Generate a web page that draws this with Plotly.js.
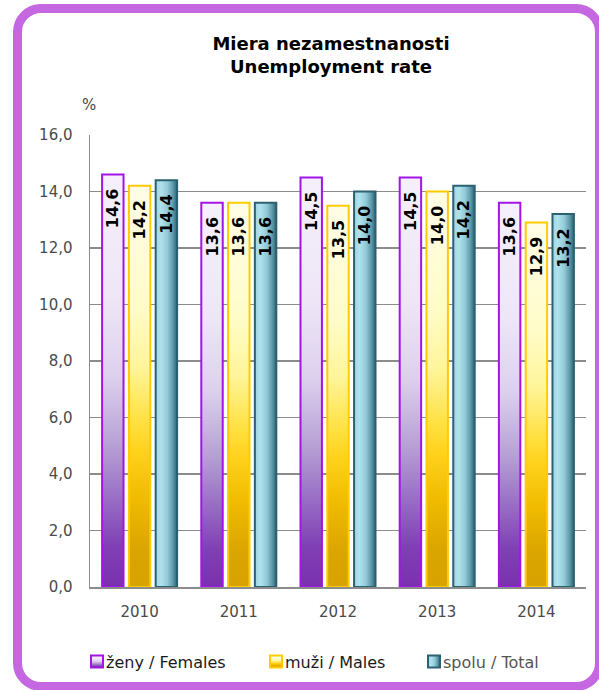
<!DOCTYPE html>
<html><head><meta charset="utf-8">
<script src="https://cdn.plot.ly/plotly-3.0.1.min.js"></script>
<style>
html,body{margin:0;padding:0;background:#fff;overflow:hidden;width:599px;height:690px;}
#frame{position:absolute;left:13px;top:4px;width:573px;height:669px;border:9px solid #c467e0;border-radius:28px;background:#fff;}
#chart{position:absolute;left:0;top:0;width:599px;height:690px;}
</style></head>
<body><div id="frame"></div><div id="chart"></div>
<script>
const years = ['2010','2011','2012','2013','2014'];
const females = [14.6, 13.6, 14.5, 14.5, 13.6];
const males = [14.2, 13.6, 13.5, 14.0, 12.9];
const total = [14.4, 13.6, 14.0, 14.2, 13.2];
const seriesNames = ['ženy / Females', 'muži / Males', 'spolu / Total'];
const yTicks = [0, 2, 4, 6, 8, 10, 12, 14, 16];

const lineColors = ['#a414e6', '#ffcc00', '#2b6171'];
const baseColors = ['#b9a0d5', '#ffe04a', '#8cc8d6'];
const legendIds = ['legend', 'legend2', 'legend3'];
const seriesVals = [females, males, total];

const data = seriesVals.map((vals, i) => ({
  type: 'bar',
  x: years,
  y: vals,
  name: seriesNames[i],
  legend: legendIds[i],
  marker: {color: baseColors[i], line: {color: lineColors[i], width: 2}},
  texttemplate: '%{y:.1f}\u00a0\u00a0',
  textposition: 'inside',
  insidetextanchor: 'end',
  textangle: -90,
  constraintext: 'none',
  textfont: {family: 'DejaVu Sans', size: 16, color: '#000', weight: 'bold'},
  hoverinfo: 'skip'
}));

const fontBase = 'DejaVu Sans';
const pw = 496, ph = 455;
function px2x(p){ return (p - 90) / pw; }
function px2y(p){ return (590 - p) / ph; }

const legendCommon = {orientation: 'h', yanchor: 'middle', xanchor: 'left', bgcolor: 'rgba(0,0,0,0)', borderwidth: 0,
  font: {family: fontBase, size: 16, color: '#1a1a1a'}};

const layout = {
  width: 599, height: 690,
  paper_bgcolor: 'rgba(0,0,0,0)', plot_bgcolor: 'rgba(0,0,0,0)',
  margin: {l: 90, r: 13, t: 135, b: 100},
  separators: ', ',
  barmode: 'group', bargap: 0.19, bargroupgap: 0.2,
  title: {text: 'Miera nezamestnanosti<br>Unemployment rate', x: 331/599, xref: 'container', xanchor: 'center',
    y: 1 - 50/690, yref: 'container', yanchor: 'top',
    font: {family: fontBase, size: 18, color: '#000', weight: 'bold'}},
  xaxis: {type: 'category', showline: true, linecolor: '#8c8c8c', linewidth: 1.5, showgrid: false,
    ticks: 'outside', ticklen: 10, tickcolor: 'rgba(0,0,0,0)',
    tickfont: {family: fontBase, size: 15, color: '#4a4a4a'}, fixedrange: true},
  yaxis: {range: [0, 16], tickvals: yTicks, tickformat: '.1f', showgrid: true, gridcolor: '#8c8c8c', gridwidth: 1.3,
    showline: true, linecolor: '#8c8c8c', linewidth: 1.5, zeroline: false,
    ticks: 'outside', ticklen: 13, tickcolor: 'rgba(0,0,0,0)',
    tickfont: {family: fontBase, size: 15, color: '#4a4a4a'}, fixedrange: true},
  legend: Object.assign({}, legendCommon, {x: px2x(106 - 40), y: px2y(665)}),
  legend2: Object.assign({}, legendCommon, {x: px2x(285 - 40), y: px2y(665)}),
  legend3: Object.assign({}, legendCommon, {x: px2x(443 - 40), y: px2y(665), font: {family: fontBase, size: 16, color: '#555'}}),
  annotations: [{text: '%', xref: 'paper', yref: 'paper', x: px2x(89), y: px2y(105), showarrow: false,
    xanchor: 'center', yanchor: 'middle', font: {family: fontBase, size: 15, color: '#4a4a4a'}}],
  showlegend: true
};

const grads = [
  {id: 'gF', x2: 0, y2: 1, stops: [[0,'#f5f0fb'],[0.3,'#eee6f7'],[0.49,'#ddd0ee'],[0.66,'#b69fd4'],[0.78,'#9a70c6'],[0.9,'#8040b5'],[1,'#7a30ae']]},
  {id: 'gM', x2: 0, y2: 1, stops: [[0,'#fffde6'],[0.3,'#fffcc8'],[0.45,'#fff59a'],[0.59,'#ffe040'],[0.66,'#ffd21c'],[0.78,'#f0bb00'],[0.9,'#dca600'],[1,'#d8a200']]},
  {id: 'gT', x2: 1, y2: 0, stops: [[0,'#9fd6e3'],[0.25,'#b0e2ec'],[0.55,'#92cad8'],[0.8,'#5f9bab'],[1,'#2c6575']]}
];

Plotly.newPlot('chart', data, layout, {displayModeBar: false, staticPlot: true}).then(gd => {
  const svg = gd.querySelector('svg.main-svg');
  const ns = 'http://www.w3.org/2000/svg';
  const defs = document.createElementNS(ns, 'defs');
  grads.forEach(g => {
    const lg = document.createElementNS(ns, 'linearGradient');
    lg.setAttribute('id', g.id);
    lg.setAttribute('x1', 0); lg.setAttribute('y1', 0);
    lg.setAttribute('x2', g.x2); lg.setAttribute('y2', g.y2);
    g.stops.forEach(s => {
      const st = document.createElementNS(ns, 'stop');
      st.setAttribute('offset', s[0]);
      st.setAttribute('stop-color', s[1]);
      lg.appendChild(st);
    });
    defs.appendChild(lg);
  });
  svg.insertBefore(defs, svg.firstChild);
  const ids = ['gF', 'gM', 'gT'];
  gd.querySelectorAll('.barlayer .trace').forEach((tr, i) => {
    tr.querySelectorAll('.point path').forEach(p => { p.style.fill = 'url(#' + ids[i] + ')'; });
  });
  gd.querySelectorAll('.legendpoints').forEach((lp, k) => {
    let idx = k;
    try { const d = lp.closest('.traces').__data__; idx = d[0].trace.index; } catch (e) {}
    lp.setAttribute('transform', 'translate(11,0)');
    lp.querySelectorAll('path').forEach(p => { p.style.fill = 'url(#' + ids[idx] + ')'; });
  });
});
</script>
</body></html>
